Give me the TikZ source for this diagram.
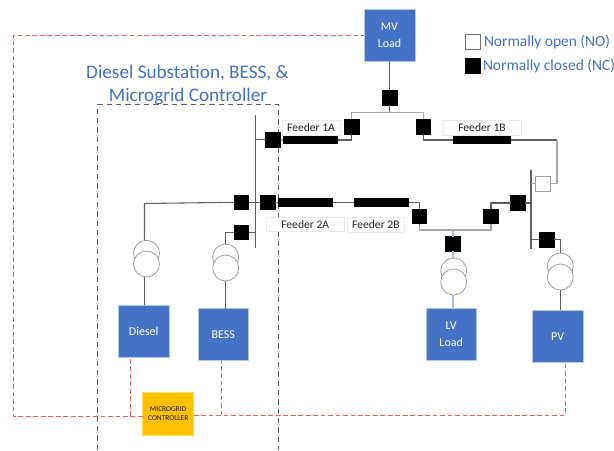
\documentclass[tikz,border=0pt]{standalone}
\usepackage{fontspec}
\setmainfont{Carlito}
\usetikzlibrary{calc}
\definecolor{boxblue}{HTML}{4472C4}
\definecolor{boxedge}{HTML}{B4C7E7}
\definecolor{ctrlorange}{HTML}{FFC000}
\definecolor{reddash}{HTML}{E85F5F}
\definecolor{wire}{HTML}{606060}
\definecolor{palewire}{HTML}{A6A6A6}
\definecolor{bluewire}{HTML}{A9BFE4}
\definecolor{ringgrey}{HTML}{A0A0A0}
\tikzset{
  x=0.75pt,y=-0.75pt,
  every node/.style={inner sep=0pt,outer sep=0pt},
  closedsw/.style={draw=black,fill=black,minimum size=11pt},
  opensw/.style={draw=ringgrey,fill=white,line width=0.8pt,minimum size=11pt},
  equip/.style={draw=boxedge,line width=0.5pt,fill=boxblue,text=white,minimum width=38pt,minimum height=39pt,align=center,font=\fontsize{9pt}{12.5pt}\selectfont},
  feeder/.style={fill=black,minimum height=6.3pt},
  tag/.style={draw=black!8,fill=white,line width=0.4pt,minimum height=11pt,font=\fontsize{8.7pt}{10pt}\selectfont,text=black!85},
  ring/.style={circle,draw=ringgrey,fill=white,line width=0.6pt,minimum size=19.5pt},
  wireline/.style={draw=wire,line width=0.8pt},
  paleline/.style={draw=palewire,line width=0.9pt},
  blueline/.style={draw=bluewire,line width=0.9pt},
  busbar/.style={draw=wire,line width=1pt},
  reddashed/.style={draw=reddash,line width=0.75pt,dash pattern=on 3.6pt off 2pt},
  zone/.style={draw=black!62,line width=0.8pt,dash pattern=on 4pt off 3pt},
  bluetext/.style={text=boxblue,font=\fontsize{14.4pt}{18pt}\selectfont},
  legendtext/.style={text=boxblue,font=\fontsize{11.6pt}{14pt}\selectfont,anchor=west},
}
\begin{document}
\begin{tikzpicture}
\useasboundingbox (0,0) rectangle (614,450);

% zone
\coordinate (zbl) at (97.7,450);
\coordinate (ztl) at (97.7,104.3);
\coordinate (ztr) at (278.3,104.3);
\coordinate (zbr) at (278.3,450);
\draw[zone] (zbl) -- (ztl) -- (ztr) -- (zbr);

% titles and legend
\node[bluetext] (title1) at (187.5,72.7) {Diesel Substation, BESS, \&};
\node[bluetext] (title2) at (188,96.5) {Microgrid Controller};
\node[opensw,minimum size=11.3pt,draw=black!55] (legno) at (473,42) {};
\node[closedsw] (legnc) at (473,66) {};
\node[legendtext] (legnotext) at (484,42) {Normally open (NO)};
\node[legendtext] (legnctext) at (483,66) {Normally closed (NC)};

% equipment
\node[equip] (mv) at (389.5,35) {MV\\Load};
\node[equip] (diesel) at (143.7,331) {Diesel};
\node[equip] (bess) at (223.3,334.5) {BESS};
\node[equip] (lv) at (451.2,334.3) {LV\\Load};
\node[equip] (pv) at (557.7,336.2) {PV};
\node[draw=ctrlorange!60,line width=0.4pt,fill=ctrlorange,minimum width=38.2pt,minimum height=32pt,align=center,font=\fontsize{5.6pt}{7pt}\selectfont,text=black!90] (ctrl) at (168.2,413.6) {MICROGRID\\CONTROLLER};

% bus bars
\coordinate (busLt) at (255.7,115);
\coordinate (busLb) at (255.7,248);
\coordinate (busRt) at (531,170);
\coordinate (busRb) at (531,249);
\draw[busbar] (busLt) -- (busLb);
\draw[busbar] (busRt) -- (busRb);

% transformers
\node[ring] (dieselT1) at (146.5,253.3) {};
\node[ring] (dieselT2) at (146.5,264) {};
\node[ring] (bessT1) at (225.7,257) {};
\node[ring] (bessT2) at (225.7,268) {};
\node[ring] (lvT1) at (453.7,271) {};
\node[ring] (lvT2) at (453.7,282) {};
\node[ring] (pvT1) at (560.3,266) {};
\node[ring] (pvT2) at (560.3,277) {};

% switches
\node[closedsw] (swMV) at (389.7,98) {};
\node[closedsw] (sw1Aup) at (351.7,126.7) {};
\node[closedsw] (sw1Bup) at (423.2,126.7) {};
\node[closedsw] (sw1Abus) at (273,139.8) {};
\node[closedsw] (sw2Abus) at (267.7,202.3) {};
\node[closedsw] (swDiesel) at (241.3,202.3) {};
\node[closedsw] (swBess) at (241.3,232.3) {};
\node[closedsw] (sw2Bdn) at (419.3,216.3) {};
\node[closedsw] (swRdn) at (491,216.3) {};
\node[closedsw] (swRbus) at (518,203) {};
\node[opensw] (swNO) at (543,183.7) {};
\node[closedsw] (swLV) at (453,244) {};
\node[closedsw] (swPV) at (546.7,239.7) {};

% feeder bars
\node[feeder,minimum width=41pt] (f1A) at (310.3,140) {};
\node[feeder,minimum width=43.5pt] (f1B) at (482,140) {};
\node[feeder,minimum width=41pt] (f2A) at (305.3,202.5) {};
\node[feeder,minimum width=41pt] (f2B) at (381.5,202.5) {};

% feeder labels
\node[tag,minimum width=43.5pt] (t1A) at (311,128) {Feeder 1A};
\node[tag,minimum width=58.5pt] (t1B) at (482,128) {Feeder 1B};
\node[tag,minimum width=58.5pt] (t2A) at (305.2,224.3) {Feeder 2A};
\node[tag,minimum width=43pt] (t2B) at (375.9,224.7) {Feeder 2B};

% wiring top
\coordinate (topL) at (351.7,112.7);
\coordinate (topR) at (423.2,112.7);
\draw[wireline] (mv.south -| swMV) -- (swMV);
\draw[wireline] (swMV) -- (swMV |- topL);
\draw[paleline] (sw1Aup.north) -- (topL) -- (topR) -- (sw1Bup.north);
\draw[wireline] (sw1Aup.south) |- (f1A.east);
\draw[wireline] (sw1Bup.south) |- (f1B.west);
\draw[wireline] (sw1Abus.west) -- (sw1Abus.west -| busLt);
\draw[wireline] (sw1Abus.east) -- (f1A.west);
\coordinate (f1Bcorner) at (557,140);
\draw[wireline] (f1B.east) -- (f1Bcorner);
\draw[paleline] (f1Bcorner) |- (swNO.east);
\draw[paleline] (swNO.west) -- (swNO.west -| busRt);

% wiring feeder 2
\draw[wireline] (sw2Abus.west) -- (sw2Abus.west -| busLt);
\draw[wireline] (swDiesel.east) -- (swDiesel.east -| busLt);
\draw[wireline] (sw2Abus.east) -- (f2A.west);
\draw[wireline] (f2A.east) -- (f2B.west);
\draw[wireline] (f2B.east) -| (sw2Bdn.north);
\coordinate (lvL) at (419.3,230);
\coordinate (lvR) at (491,230);
\draw[paleline] (sw2Bdn.south) -- (lvL) -- (lvR) -- (swRdn.south);
\draw[wireline] (swRdn.north) |- (swRbus.west);
\draw[wireline] (swRbus.east) -- (swRbus.east -| busRt);

% drops to equipment
\draw[wireline] (swDiesel.west) -- (144.5,203.5) -- (dieselT1.north -| 144.5,0);
\draw[wireline] (dieselT2.south -| 144.5,0) -- (diesel.north -| 144.5,0);
\draw[wireline] (swBess.east) -- (swBess.east -| busLt);
\draw[wireline] (swBess.west) -| (bessT1.north);
\draw[wireline] (bessT2.south) -- (bessT2.south |- bess.north);
\draw[blueline] (swLV |- lvL) -- (swLV.north);
\draw[blueline] (swLV.south) -- (swLV |- lvT1.north);
\draw[blueline] (swLV |- lvT2.south) -- (swLV |- lv.north);
\draw[wireline] (swPV.west) -- (swPV.west -| busRt);
\draw[wireline] (swPV.east) -| (pvT1.north);
\draw[wireline] (pvT2.south) -- (pvT2.south |- pv.north);

% control wiring
\coordinate (cWest) at (142.7,416);
\coordinate (cEast) at (193.7,415.3);
\coordinate (rBL) at (13,416);
\coordinate (rTL) at (13,35);
\coordinate (dJoin) at (130.7,416);
\coordinate (bJoin) at (221,415.3);
\coordinate (pJoin) at (565,415.3);
\draw[reddashed] (cWest) -- (rBL) -- (rTL) -- (mv.west);
\draw[reddashed] (cEast) -- (pJoin) -- (pJoin |- pv.south);
\draw[reddashed] (dJoin) -- (dJoin |- diesel.south);
\draw[reddashed] (bJoin) -- (bJoin |- bess.south);
\end{tikzpicture}
\end{document}
